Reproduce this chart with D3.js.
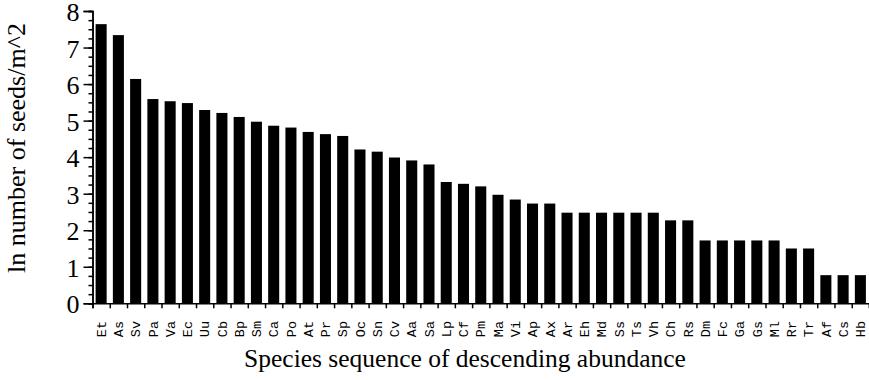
<!DOCTYPE html>
<html>
<head>
<meta charset="utf-8">
<script src="https://cdn.jsdelivr.net/npm/d3@7"></script>
<style>
  body { margin: 0; background: #fff; }
  svg text { fill: #000; }
</style>
</head>
<body>
<svg id="chart"></svg>
<script>
// species, in descending abundance
const species = ["Et", "As", "Sv", "Pa", "Va", "Ec", "Uu", "Cb", "Bp", "Sm", "Ca", "Po",
  "At", "Pr", "Sp", "Oc", "Sn", "Cv", "Aa", "Sa", "Lp", "Cf", "Pm", "Ma", "Vi", "Ap",
  "Ax", "Ar", "Eh", "Md", "Ss", "Ts", "Vh", "Ch", "Rs", "Dm", "Fc", "Ga", "Gs", "Ml",
  "Rr", "Tr", "Af", "Cs", "Hb"];

// ln number of seeds per m^2
const lnSeeds = [7.64, 7.34, 6.14, 5.59, 5.53, 5.48, 5.29, 5.21, 5.10, 4.97, 4.86, 4.81,
  4.69, 4.63, 4.58, 4.21, 4.15, 3.99, 3.91, 3.80, 3.32, 3.27, 3.20, 2.97, 2.84, 2.73,
  2.73, 2.48, 2.48, 2.48, 2.48, 2.48, 2.48, 2.27, 2.27, 1.72, 1.72, 1.72, 1.72, 1.72,
  1.50, 1.50, 0.77, 0.77, 0.77];

const yTicks = [0, 1, 2, 3, 4, 5, 6, 7, 8];

const width = 869, height = 380;
const svg = d3.select("#chart").attr("width", width).attr("height", height);

// scales
const x = d3.scaleBand()
  .domain(species)
  .range([92.5, 869])
  .paddingInner(0.36)
  .paddingOuter(0.18);

const y = d3.scaleLinear().domain([0, 8]).range([303.3, 11]);

// bars
svg.append("g").selectAll("rect")
  .data(species)
  .enter()
  .append("rect")
  .attr("x", d => x(d))
  .attr("width", x.bandwidth())
  .attr("y", (d, i) => y(lnSeeds[i]))
  .attr("height", (d, i) => y(0) - y(lnSeeds[i]))
  .attr("fill", "#000");

// y axis: minor ticks every 0.25
svg.append("g")
  .attr("transform", `translate(${x.range()[0]},0)`)
  .call(d3.axisLeft(y).tickValues(d3.range(0, 8.01, 0.25)).tickSize(4).tickFormat(""))
  .call(g => g.selectAll("line, path").attr("stroke", "#000").attr("stroke-width", 1.5));

// y axis: major ticks + labels
const yAxis = svg.append("g")
  .attr("transform", `translate(${x.range()[0]},0)`)
  .call(d3.axisLeft(y).tickValues(yTicks).tickSize(9).tickPadding(4).tickFormat(d3.format("d")));
yAxis.selectAll("line, path").attr("stroke", "#000").attr("stroke-width", 1.5);
yAxis.selectAll("text")
  .attr("font-family", "'Liberation Serif', 'Times New Roman', serif")
  .attr("font-size", 26)
  .attr("dy", "0.37em");

// x axis: ticks at category boundaries
const xEdges = d3.scaleLinear().domain([0, species.length]).range(x.range());
svg.append("g")
  .attr("transform", `translate(0,${y(0)})`)
  .call(d3.axisBottom(xEdges).tickValues(d3.range(species.length + 1)).tickSize(5).tickFormat(""))
  .call(g => g.selectAll("line, path").attr("stroke", "#000").attr("stroke-width", 1.5));

// species labels, rotated
svg.append("g").selectAll("text")
  .data(species)
  .enter()
  .append("text")
  .attr("transform", d => `translate(${x(d) + x.bandwidth() / 2},321) rotate(-90)`)
  .attr("text-anchor", "end")
  .attr("dy", "0.35em")
  .attr("font-family", "'Liberation Mono', 'Courier New', monospace")
  .attr("font-size", 13.5)
  .text(d => d);

// axis titles
svg.append("text")
  .attr("x", 465)
  .attr("y", 367)
  .attr("text-anchor", "middle")
  .attr("font-family", "'Liberation Serif', 'Times New Roman', serif")
  .attr("font-size", 25.5)
  .text("Species sequence of descending abundance");

svg.append("text")
  .attr("transform", "translate(25,148) rotate(-90)")
  .attr("text-anchor", "middle")
  .attr("font-family", "'Liberation Serif', 'Times New Roman', serif")
  .attr("font-size", 26)
  .text("ln number of seeds/m^2");
</script>
</body>
</html>
